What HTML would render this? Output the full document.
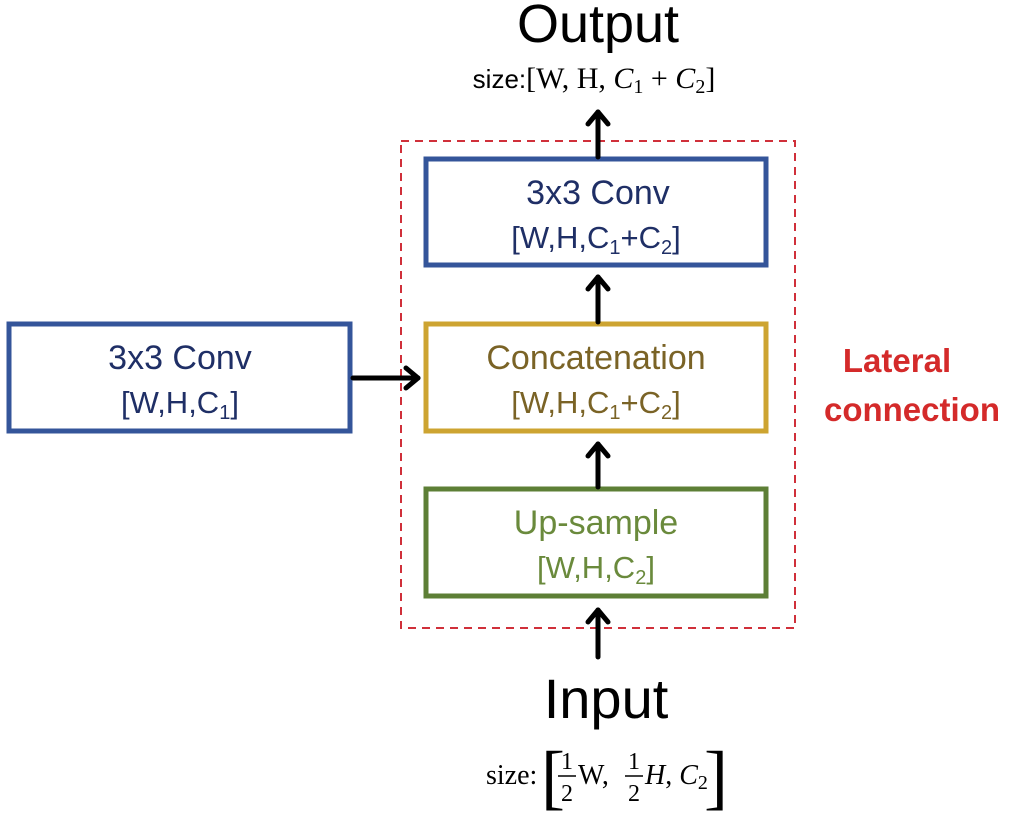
<!DOCTYPE html>
<html><head><meta charset="utf-8"><style>
html,body{margin:0;padding:0;background:#fff;}
svg{display:block;}
.t{font-family:"Liberation Sans","DejaVu Sans",sans-serif;}
.m{font-family:"Liberation Serif","DejaVu Serif",serif;}
</style></head><body>
<svg width="1010" height="818" viewBox="0 0 1010 818" xmlns="http://www.w3.org/2000/svg">
<rect x="401" y="141" width="394" height="487" fill="none" stroke="#d0303a" stroke-width="2" stroke-dasharray="8,6"/>
<rect x="426" y="159" width="340" height="106" fill="#fff" stroke="#34559a" stroke-width="5"/>
<rect x="426" y="324" width="340" height="107" fill="#fff" stroke="#cda431" stroke-width="5"/>
<rect x="426" y="489" width="340" height="107" fill="#fff" stroke="#5d7f36" stroke-width="5"/>
<rect x="9" y="324" width="341" height="107" fill="#fff" stroke="#34559a" stroke-width="5"/>
<g stroke="#000" stroke-width="5" fill="none" stroke-linecap="round" stroke-linejoin="round">
<line x1="598" y1="157" x2="598" y2="112"/><path d="M588,124 L598,112 L608,124"/>
<line x1="598" y1="322" x2="598" y2="277"/><path d="M588,289 L598,277 L608,289"/>
<line x1="598" y1="487" x2="598" y2="444"/><path d="M588,456 L598,444 L608,456"/>
<line x1="598" y1="657" x2="598" y2="610"/><path d="M588,622 L598,610 L608,622"/>
<line x1="353" y1="378" x2="418" y2="378"/><path d="M406,368 L418,378 L406,388"/>
</g>
<text class="t" x="598" y="42" font-size="54" text-anchor="middle" fill="#000">Output</text>
<text x="594" y="88" font-size="30" text-anchor="middle" fill="#000"><tspan class="t" font-size="26">size:</tspan><tspan class="m">[W, H, <tspan font-style="italic">C</tspan><tspan font-size="20" dy="5">1</tspan><tspan dy="-5"> + </tspan><tspan font-style="italic">C</tspan><tspan font-size="20" dy="5">2</tspan><tspan dy="-5">]</tspan></tspan></text>

<text class="t" x="598" y="204" font-size="34" text-anchor="middle" fill="#1f2f66">3x3 Conv</text>
<text class="t" x="596" y="248" font-size="31" text-anchor="middle" fill="#1f2f66">[W,H,C<tspan font-size="20" dy="6">1</tspan><tspan dy="-6">+C</tspan><tspan font-size="20" dy="6">2</tspan><tspan dy="-6">]</tspan></text>

<text class="t" x="596" y="369" font-size="34" text-anchor="middle" fill="#7a6326">Concatenation</text>
<text class="t" x="596" y="413" font-size="31" text-anchor="middle" fill="#7a6326">[W,H,C<tspan font-size="20" dy="6">1</tspan><tspan dy="-6">+C</tspan><tspan font-size="20" dy="6">2</tspan><tspan dy="-6">]</tspan></text>

<text class="t" x="596" y="534" font-size="34" text-anchor="middle" fill="#6a8a3c">Up-sample</text>
<text class="t" x="596" y="578" font-size="31" text-anchor="middle" fill="#6a8a3c">[W,H,C<tspan font-size="20" dy="6">2</tspan><tspan dy="-6">]</tspan></text>

<text class="t" x="180" y="369" font-size="34" text-anchor="middle" fill="#1f2f66">3x3 Conv</text>
<text class="t" x="180" y="413" font-size="31" text-anchor="middle" fill="#1f2f66">[W,H,C<tspan font-size="20" dy="6">1</tspan><tspan dy="-6">]</tspan></text>

<text class="t" x="897" y="372" font-size="33" font-weight="bold" text-anchor="middle" fill="#d42a2a">Lateral</text>
<text class="t" x="912" y="421" font-size="33" font-weight="bold" text-anchor="middle" fill="#d42a2a">connection</text>

<text class="t" x="606" y="718" font-size="56" text-anchor="middle" fill="#000">Input</text>
<text class="m" x="486" y="784" font-size="28" fill="#000">size:</text>
<text class="m" x="541" y="801" font-size="72" fill="#000">[</text>
<text class="m" x="567" y="769" font-size="24" text-anchor="middle" fill="#000">1</text>
<line x1="558" y1="776" x2="576" y2="776" stroke="#000" stroke-width="1.5"/>
<text class="m" x="567" y="801" font-size="24" text-anchor="middle" fill="#000">2</text>
<text class="m" x="578" y="784" font-size="28" fill="#000">W,</text>
<text class="m" x="634" y="769" font-size="24" text-anchor="middle" fill="#000">1</text>
<line x1="625" y1="776" x2="643" y2="776" stroke="#000" stroke-width="1.5"/>
<text class="m" x="634" y="801" font-size="24" text-anchor="middle" fill="#000">2</text>
<text class="m" x="645" y="784" font-size="28" fill="#000"><tspan font-style="italic">H</tspan>, <tspan font-style="italic">C</tspan><tspan font-size="20" dy="5">2</tspan></text>
<text class="m" x="704" y="801" font-size="72" fill="#000">]</text>
</svg>
</body></html>
